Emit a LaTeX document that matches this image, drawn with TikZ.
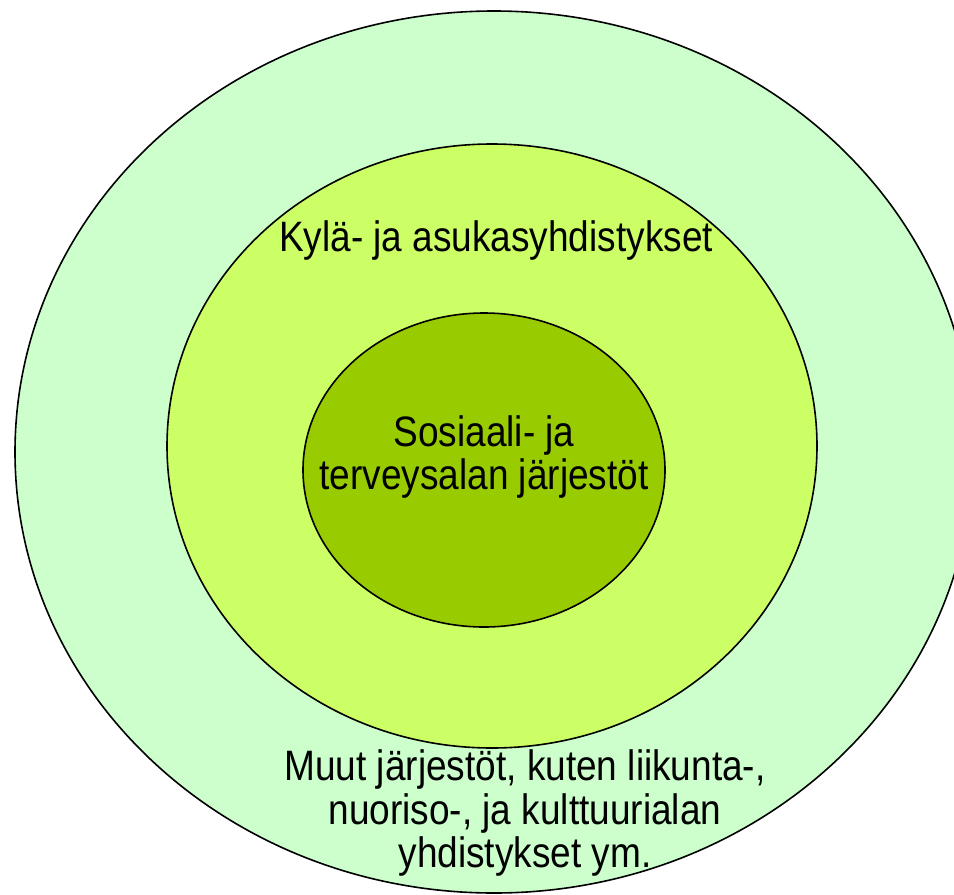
\documentclass[tikz,border=0pt]{standalone}
\usepackage{fontspec}
\setmainfont{Liberation Sans}
\definecolor{outerc}{HTML}{CCFFCC}
\definecolor{midc}{HTML}{CCFF66}
\definecolor{innerc}{HTML}{99CC00}
\begin{document}
\begin{tikzpicture}[x=1pt,y=-1pt,
  ring/.style={draw=black,line width=1.6pt},
  lbl/.style={font=\fontsize{37}{37.8}\selectfont,align=center,inner sep=0pt,yscale=1.15,transform shape}]
\useasboundingbox (0,0) rectangle (954,895);
\begin{scope}
\clip (0,0) rectangle (954,895);
\path[ring,fill=outerc] (494,452) ellipse [x radius=479,y radius=441];
\path[ring,fill=midc] (492,446) ellipse [x radius=325,y radius=302];
\path[ring,fill=innerc] (484,470) ellipse [x radius=181,y radius=157];
\end{scope}
\node[lbl] (mid) at (496,240) {Kylä- ja asukasyhdistykset};
\node[lbl] (inner) at (484,457) {Sosiaali- ja\\terveysalan järjestöt};
\node[lbl] (outer) at (525,813) {Muut järjestöt, kuten liikunta-,\\nuoriso-, ja kulttuurialan\\yhdistykset ym.};
\end{tikzpicture}
\end{document}
